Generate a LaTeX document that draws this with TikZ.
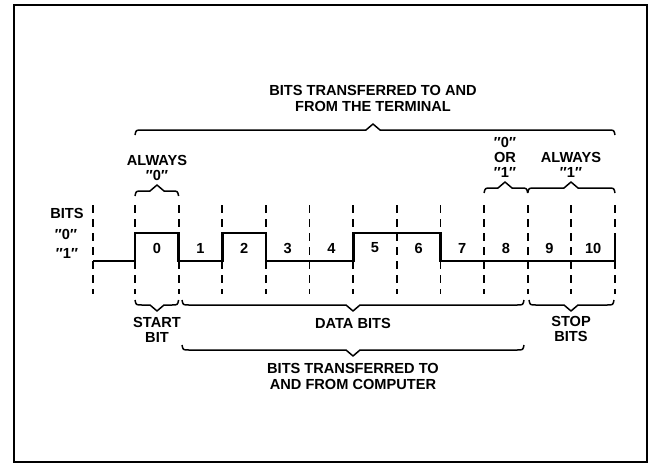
\documentclass[tikz,border=0pt]{standalone}
\usepackage{fontspec}
\setmainfont{Liberation Sans}
\newcommand\mybrace[5]{% x1, x2, tip x, line y, direction of tip (1 down, -1 up)
  \draw[brc] ({#1},{#4-(#5)*5}) .. controls ({#1+1},{#4}) .. ({#1+7},{#4})
    -- ({#3-7},{#4}) -- ({#3},{#4+(#5)*6}) -- ({#3+7},{#4})
    -- ({#2-7},{#4}) .. controls ({#2-1},{#4}) .. ({#2},{#4-(#5)*5});}
\begin{document}
\begin{tikzpicture}[x=1pt,y=-1pt,
  lbl/.style={font=\bfseries\fontsize{14.6}{15}\selectfont, inner sep=0pt, align=center},
  wave/.style={line width=2.8pt, line join=miter},
  tickline/.style={line width=1.8pt, dash pattern=on 8pt off 6pt},
  brc/.style={line width=1.5pt, line join=round},
  frame/.style={line width=2.5pt}]
\useasboundingbox (0,0) rectangle (653,467);
\draw[frame] (14,5) rectangle (647,462);
% bit boundaries
\foreach \i in {0,...,11} {
  \coordinate (b\i) at ({135+\i*43.636},0);
  \draw[tickline] ({135+\i*43.636},205) -- ({135+\i*43.636},294);
}
\coordinate (axis) at (93,0);
\draw[tickline] (93,205) -- (93,294);
% waveform
\draw[wave] (axis |- 0,261) -- (b0 |- 0,261) -- (b0 |- 0,233) -- (b1 |- 0,233) -- (b1 |- 0,261)
  -- (b2 |- 0,261) -- (b2 |- 0,233) -- (b3 |- 0,233) -- (b3 |- 0,261)
  -- (b5 |- 0,261) -- (b5 |- 0,233) -- (b7 |- 0,233) -- (b7 |- 0,261)
  -- (b11 |- 0,261) -- (b11 |- 0,233);
% bit numbers
\foreach \i in {0,...,10} {
  \node[lbl] (n\i) at ({135+\i*43.636+21.818},248) {\i};
}
% axis labels
\node[lbl] (bitslbl) at (67,213) {BITS};
\node[lbl] (zerolbl) at (66,234) {″0″};
\node[lbl] (onelbl) at (67,253) {″1″};
% top braces
\mybrace{135}{615}{373}{130}{-1}
\node[lbl, font=\bfseries\fontsize{14.6}{16}\selectfont] (term) at (373,98) {BITS TRANSFERRED TO AND\\FROM THE TERMINAL};
\mybrace{135}{178.6}{157}{191}{-1}
\node[lbl] (alw0) at (157,167.5) {ALWAYS\\″0″};
\mybrace{484.1}{527.7}{505}{188}{-1}
\node[lbl] (orlbl) at (505,157) {″0″\\OR\\″1″};
\mybrace{527.7}{615}{571}{188}{-1}
\node[lbl] (alw1) at (571,164.5) {ALWAYS\\″1″};
% bottom braces
\mybrace{135}{178.6}{157}{305}{1}
\node[lbl] (start) at (157,330) {START\\BIT};
\mybrace{182}{524}{353}{305}{1}
\node[lbl] (data) at (353,323) {DATA BITS};
\mybrace{529}{614}{571}{305}{1}
\node[lbl] (stop) at (571,329) {STOP\\BITS};
\mybrace{182}{524}{353}{350}{1}
\node[lbl, font=\bfseries\fontsize{14.6}{16}\selectfont] (comp) at (353,376) {BITS TRANSFERRED TO\\AND FROM COMPUTER};
\end{tikzpicture}
\end{document}
